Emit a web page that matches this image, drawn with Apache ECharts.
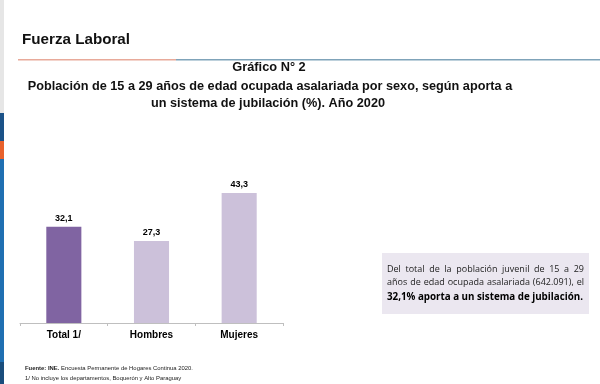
<!DOCTYPE html>
<html>
<head>
<meta charset="utf-8">
<script src="https://cdn.jsdelivr.net/npm/echarts@6/dist/echarts.min.js"></script>
<style>html,body{margin:0;padding:0;background:#fff}#c{width:600px;height:384px}</style>
</head>
<body>
<div id="c"></div>
<script>
var categories = ['Total 1/', 'Hombres', 'Mujeres'];
var values = [32.1, 27.3, 43.3];
var barColors = ['#8064a2', '#ccc1da', '#ccc1da'];
var noteLines = [
  'Del total de la población juvenil de 15 a 29',
  'años de edad ocupada asalariada (642.091), el',
  '32,1% aporta a un sistema de jubilación.'
];

var chart = echarts.init(document.getElementById('c'), null, {renderer: 'canvas'});
var F = '"Liberation Sans", Arial, sans-serif';
var O = '"Open Sans", sans-serif';

var ctx = document.createElement('canvas').getContext('2d');
function justify(line, font, x0, w, yb, fill) {
  ctx.font = font;
  var words = line.split(' ');
  var total = 0;
  words.forEach(function (wd) { total += ctx.measureText(wd).width; });
  var gap = (w - total) / (words.length - 1);
  var x = x0, els = [];
  words.forEach(function (wd) {
    els.push({type: 'text', x: x, y: yb, style: {text: wd, fill: fill, font: font, textVerticalAlign: 'bottom'}});
    x += ctx.measureText(wd).width + gap;
  });
  return els;
}

var graphics = [
  {type: 'rect', shape: {x: 0, y: 0, width: 4, height: 113}, style: {fill: '#e6e6e6'}},
  {type: 'rect', shape: {x: 0, y: 113, width: 4, height: 28}, style: {fill: '#1b5288'}},
  {type: 'rect', shape: {x: 0, y: 141, width: 4, height: 18}, style: {fill: '#e8612c'}},
  {type: 'rect', shape: {x: 0, y: 159, width: 4, height: 203}, style: {fill: '#1f6fb2'}},
  {type: 'rect', shape: {x: 0, y: 362, width: 4, height: 22}, style: {fill: '#1a4d7c'}},
  {type: 'text', left: 22, top: 32, style: {text: 'Fuerza Laboral', fill: '#111', font: 'bold 15.2px ' + F}},
  {type: 'rect', shape: {x: 18, y: 59, width: 158, height: 1.5}, style: {fill: '#e8aa9a'}},
  {type: 'rect', shape: {x: 176, y: 59, width: 424, height: 1.5}, style: {fill: '#7fa3b9'}},
  {type: 'text', x: 269, y: 74, style: {text: 'Gráfico N° 2', fill: '#111', font: 'bold 12.8px ' + F, textAlign: 'center', textVerticalAlign: 'bottom'}},
  {type: 'text', x: 270, y: 93, style: {text: 'Población de 15 a 29 años de edad ocupada asalariada por sexo, según aporta a', fill: '#111', font: 'bold 12.7px ' + F, textAlign: 'center', textVerticalAlign: 'bottom'}},
  {type: 'text', x: 268, y: 110, style: {text: 'un sistema de jubilación (%). Año 2020', fill: '#111', font: 'bold 12.7px ' + F, textAlign: 'center', textVerticalAlign: 'bottom'}},
  {type: 'rect', shape: {x: 382, y: 253, width: 207, height: 61}, style: {fill: '#ebe7f0'}},
  {type: 'text', x: 25, y: 371, style: {text: '{b|Fuente: INE.} Encuesta Permanente de Hogares Continua 2020.', fill: '#222', font: '5.9px ' + F, textVerticalAlign: 'bottom', rich: {b: {fontWeight: 'bold', fontSize: 5.9, fontFamily: F, fill: '#222'}}}},
  {type: 'text', x: 25, y: 381, style: {text: '1/ No incluye los departamentos, Boquerón y Alto Paraguay', fill: '#222', font: '5.9px ' + F, textVerticalAlign: 'bottom'}}
];
graphics = graphics
  .concat(justify(noteLines[0], '9px ' + O, 387, 197, 274, '#222'))
  .concat(justify(noteLines[1], '9px ' + O, 387, 197, 287, '#222'))
  .concat(justify(noteLines[2], 'bold 9.8px ' + O, 387, 196, 302, '#000'));

var option = {
  backgroundColor: '#fff',
  animation: false,
  grid: {left: 20, right: 317, top: 173, bottom: 61},
  xAxis: {
    type: 'category',
    data: categories,
    axisLine: {lineStyle: {color: '#bfbfbf', width: 1}},
    axisTick: {show: true, length: 3, lineStyle: {color: '#bfbfbf'}},
    axisLabel: {color: '#000', fontFamily: F, fontWeight: 'bold', fontSize: 10, margin: 7}
  },
  yAxis: {type: 'value', min: 0, max: 50, show: false, splitLine: {show: false}},
  series: [{
    type: 'bar',
    barWidth: '40%',
    data: values.map(function (v, i) { return {value: v, itemStyle: {color: barColors[i]}}; }),
    label: {
      show: true, position: 'top', distance: 4,
      color: '#000', fontFamily: F, fontWeight: 'bold', fontSize: 9,
      formatter: function (p) { return String(p.value).replace('.', ','); }
    }
  }],
  graphic: graphics
};
chart.setOption(option);
</script>
</body>
</html>
